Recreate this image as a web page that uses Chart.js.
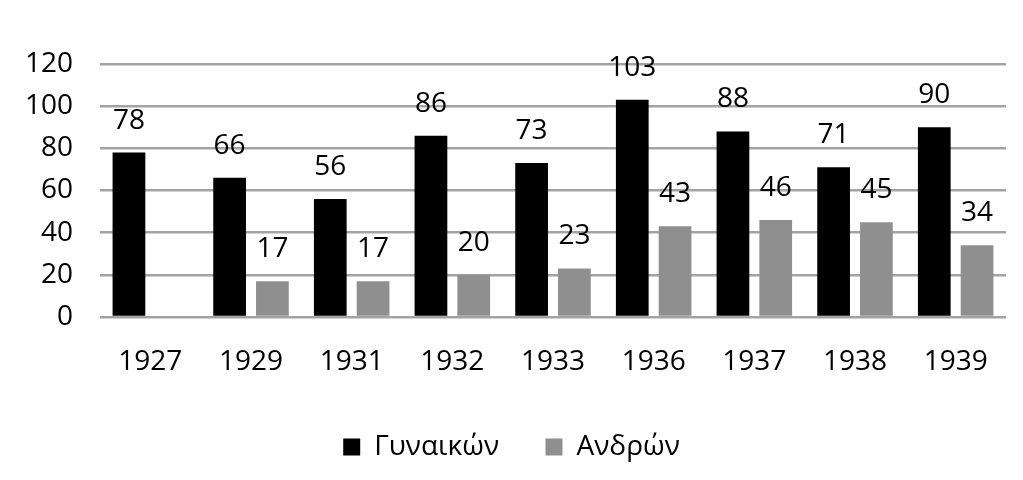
<!DOCTYPE html>
<html>
<head>
<meta charset="utf-8">
<script src="https://cdn.jsdelivr.net/npm/chart.js@4"></script>
<style>
html,body{margin:0;padding:0;background:#fff;}
#wrap{width:1023px;height:480px;}
</style>
</head>
<body>
<div id="wrap"><canvas id="c" width="1023" height="480"></canvas></div>
<script>
const years = ['1927','1929','1931','1932','1933','1936','1937','1938','1939'];
const women = [78,66,56,86,73,103,88,71,90];
const men = [null,17,17,20,23,43,46,45,34];
const seriesNames = ['Γυναικών','Ανδρών'];
const yTicks = [0,20,40,60,80,100,120];

const FONT = '"Open Sans", "DejaVu Sans", sans-serif';

const valueLabels = {
  id: 'valueLabels',
  afterDatasetsDraw(chart) {
    const ctx = chart.ctx;
    ctx.save();
    ctx.fillStyle = '#000';
    ctx.font = '28px ' + FONT;
    ctx.textAlign = 'center';
    ctx.textBaseline = 'middle';
    chart.data.datasets.forEach((ds, i) => {
      const meta = chart.getDatasetMeta(i);
      meta.data.forEach((el, j) => {
        const v = ds.data[j];
        if (v === null || v === undefined) return;
        ctx.fillText(String(v), el.x, el.y - 32);
      });
    });
    ctx.restore();
  }
};

new Chart(document.getElementById('c'), {
  type: 'bar',
  data: {
    labels: years,
    datasets: [
      { label: seriesNames[0], data: women, backgroundColor: '#000000', categoryPercentage: 0.85, barPercentage: 0.765 },
      { label: seriesNames[1], data: men, backgroundColor: '#8f8f8f', categoryPercentage: 0.85, barPercentage: 0.765 }
    ]
  },
  options: {
    responsive: false,
    animation: false,
    layout: { padding: { top: 64, right: 0, bottom: 9, left: 0 } },
    plugins: {
      tooltip: { enabled: false },
      legend: {
        position: 'bottom',
        labels: {
          color: '#000',
          font: { family: FONT, size: 28 },
          boxWidth: 17,
          boxHeight: 17,
          padding: 10,
          generateLabels(chart) {
            const items = Chart.defaults.plugins.legend.labels.generateLabels(chart);
            if (items[0]) items[0].text = items[0].text + '     ';
            return items;
          }
        }
      }
    },
    scales: {
      x: {
        grid: { display: false, drawTicks: false },
        border: { display: false },
        ticks: { color: '#000', font: { family: FONT, size: 28 }, padding: 28 },
        afterFit(scale) { scale.height = 106; }
      },
      y: {
        min: 0, max: 120,
        afterBuildTicks(scale) { scale.ticks = yTicks.map(v => ({ value: v })); },
        grid: { color: '#a3a3a3', lineWidth: 2.5, drawTicks: false },
        border: { display: false },
        ticks: { color: '#000', font: { family: FONT, size: 28 }, padding: 27 },
        afterFit(scale) { scale.width = 100; }
      },
      yr: {
        position: 'right',
        display: true,
        min: 0, max: 120,
        grid: { display: false, drawTicks: false },
        border: { display: false },
        ticks: { display: false },
        afterFit(scale) { scale.width = 17; }
      }
    }
  },
  plugins: [valueLabels]
});
</script>
</body>
</html>
